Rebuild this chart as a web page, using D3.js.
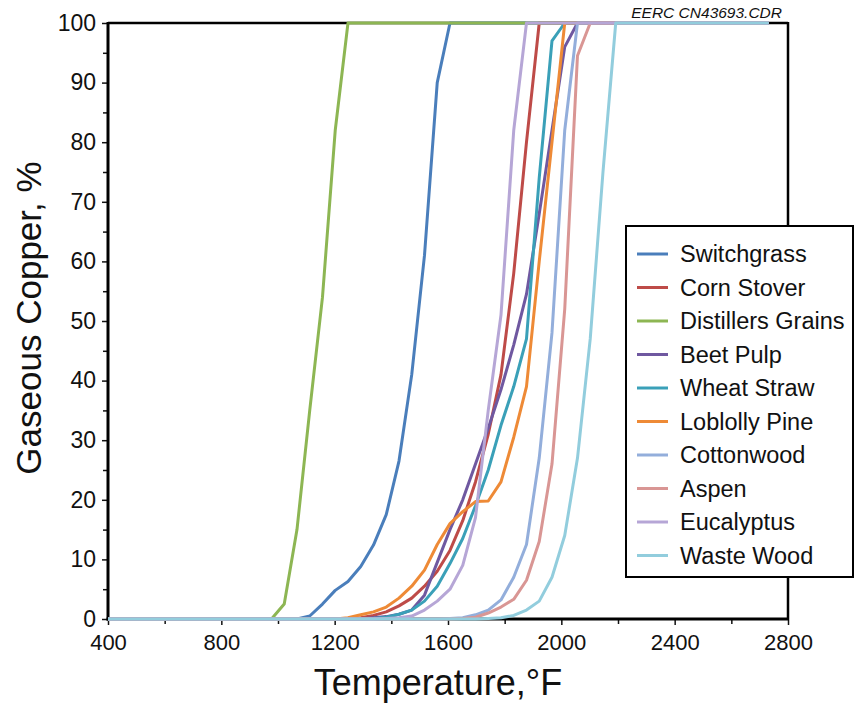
<!DOCTYPE html>
<html>
<head>
<meta charset="utf-8">
<script src="https://cdn.jsdelivr.net/npm/d3@7"></script>
<style>
  html, body { margin: 0; padding: 0; background: #fff; }
  svg { display: block; }
  text { font-family: "Liberation Sans", Arial, Helvetica, sans-serif; fill: #111; }
</style>
</head>
<body>
<svg id="chart" width="856" height="705"></svg>
<script>
// Temperature grid (°F), one reading every 25 °C
const temperature = [400, 437, 482, 527, 572, 617, 662, 707, 752, 797, 842, 887, 932,
  977, 1022, 1067, 1112, 1157, 1202, 1247, 1292, 1337, 1382, 1427, 1472, 1517, 1562,
  1607, 1652, 1697, 1742, 1787, 1832, 1877, 1922, 1967, 2012, 2057, 2102, 2147, 2192,
  2237, 2282, 2327, 2372, 2417, 2462, 2507, 2552, 2597, 2642, 2687, 2732];

// Gaseous copper (%) for each fuel along the temperature grid
const switchgrass = [0,0,0,0,0,0,0,0,0,0,0,0,0,0,0,0,
  0.5,2.5,4.8,6.3,8.8,12.4,17.5,26.5,41,61,90,
  100,100,100,100,100,100,100,100,100,100,100,100,100,100,100,100,100,100,100,100,100,100,100,100,100,100];
const cornStover = [0,0,0,0,0,0,0,0,0,0,0,0,0,0,0,0,0,0,0,0,
  0.2,0.6,1.2,2.2,3.5,5.5,8,11.5,16.5,23,31,41,58,80,
  100,100,100,100,100,100,100,100,100,100,100,100,100,100,100,100,100,100,100];
const distillersGrains = [0,0,0,0,0,0,0,0,0,0,0,0,0,0,
  2.5,15,35,54,82,
  100,100,100,100,100,100,100,100,100,100,100,100,100,100,100,100,100,100,100,100,100,100,100,100,100,100,100,100,100,100,100,100,100,100];
const beetPulp = [0,0,0,0,0,0,0,0,0,0,0,0,0,0,0,0,0,0,0,0,0,
  0.2,0.4,0.8,1.5,4,9.5,15,20,26,32,38.5,46,54.5,68,82,96,
  100,100,100,100,100,100,100,100,100,100,100,100,100,100,100,100];
const wheatStraw = [0,0,0,0,0,0,0,0,0,0,0,0,0,0,0,0,0,0,0,0,0,
  0.1,0.3,0.8,1.5,3,5.5,9.3,13.5,19,25,32.5,39,47,74,97,
  100,100,100,100,100,100,100,100,100,100,100,100,100,100,100,100,100];
const loblollyPine = [0,0,0,0,0,0,0,0,0,0,0,0,0,0,0,0,0,0,0,
  0.2,0.7,1.2,2,3.5,5.5,8.2,12.5,16,18,19.7,19.8,23,30.5,39,60,80,
  100,100,100,100,100,100,100,100,100,100,100,100,100,100,100,100,100];
const cottonwood = [0,0,0,0,0,0,0,0,0,0,0,0,0,0,0,0,0,0,0,0,0,0,0,0,0,0,0,
  0.1,0.2,0.7,1.5,3.2,7,12.5,27,48,82,
  100,100,100,100,100,100,100,100,100,100,100,100,100,100,100,100];
const aspen = [0,0,0,0,0,0,0,0,0,0,0,0,0,0,0,0,0,0,0,0,0,0,0,0,0,0,0,0,
  0.1,0.3,1,2,3.3,6.5,13,26,52,94.5,
  100,100,100,100,100,100,100,100,100,100,100,100,100,100,100];
const eucalyptus = [0,0,0,0,0,0,0,0,0,0,0,0,0,0,0,0,0,0,0,0,0,0,
  0.1,0.2,0.5,1.5,3,5,9,17,35,51,82,
  100,100,100,100,100,100,100,100,100,100,100,100,100,100,100,100,100,100,100,100];
const wasteWood = [0,0,0,0,0,0,0,0,0,0,0,0,0,0,0,0,0,0,0,0,0,0,0,0,0,0,0,0,0,0,
  0.1,0.2,0.6,1.5,3,7,14,27,47,75,
  100,100,100,100,100,100,100,100,100,100,100,100,100];

const seriesNames = ["Switchgrass", "Corn Stover", "Distillers Grains", "Beet Pulp", "Wheat Straw",
  "Loblolly Pine", "Cottonwood", "Aspen", "Eucalyptus", "Waste Wood"];
const seriesValues = [switchgrass, cornStover, distillersGrains, beetPulp, wheatStraw,
  loblollyPine, cottonwood, aspen, eucalyptus, wasteWood];
const seriesColors = ["#4a7ebb", "#be4b48", "#8db653", "#6f58a0", "#3aa0b8",
  "#ee8a36", "#93aedb", "#d99694", "#b6a6d6", "#92cddd"];

const xTicks = [400, 800, 1200, 1600, 2000, 2400, 2800];
const yTicks = [0, 10, 20, 30, 40, 50, 60, 70, 80, 90, 100];

const svg = d3.select("#chart");
const plotLeft = 108, plotRight = 788, plotTop = 23, plotBottom = 619;

const x = d3.scaleLinear().domain([400, 2800]).range([plotLeft, plotRight]);
const y = d3.scaleLinear().domain([0, 100]).range([plotBottom, plotTop]);

// Minor ticks
svg.append("g")
  .attr("transform", `translate(0,${plotBottom})`)
  .call(d3.axisBottom(x).tickValues(d3.range(600, 2800, 400)).tickSize(5).tickFormat(""))
  .call(g => g.select(".domain").remove())
  .call(g => g.selectAll("line").attr("stroke", "#111").attr("stroke-width", 1.5));
svg.append("g")
  .attr("transform", `translate(${plotLeft},0)`)
  .call(d3.axisLeft(y).tickValues(d3.range(5, 100, 10)).tickSize(5).tickFormat(""))
  .call(g => g.select(".domain").remove())
  .call(g => g.selectAll("line").attr("stroke", "#111").attr("stroke-width", 1.5));

// Major ticks and labels
const xAxis = svg.append("g")
  .attr("transform", `translate(0,${plotBottom})`)
  .call(d3.axisBottom(x).tickValues(xTicks).tickSize(6).tickPadding(9).tickFormat(d3.format("d")));
xAxis.select(".domain").remove();
xAxis.selectAll("line").attr("stroke", "#111").attr("stroke-width", 1.5);
xAxis.selectAll("text").attr("font-size", 22).attr("fill", "#111")
  .style("font-family", "'Liberation Sans', Arial, sans-serif");

const yAxis = svg.append("g")
  .attr("transform", `translate(${plotLeft},0)`)
  .call(d3.axisLeft(y).tickValues(yTicks).tickSize(6).tickPadding(6).tickFormat(d3.format("d")));
yAxis.select(".domain").remove();
yAxis.selectAll("line").attr("stroke", "#111").attr("stroke-width", 1.5);
yAxis.selectAll("text").attr("font-size", 23).attr("fill", "#111")
  .style("font-family", "'Liberation Sans', Arial, sans-serif");

// Plot frame
const frame = svg.append("g").attr("stroke", "#000").attr("fill", "none");
frame.append("line").attr("x1", plotLeft).attr("x2", plotRight).attr("y1", plotTop).attr("y2", plotTop).attr("stroke-width", 2.5);
frame.append("line").attr("x1", plotRight).attr("x2", plotRight).attr("y1", plotTop - 1).attr("y2", plotBottom).attr("stroke-width", 2.5);
frame.append("line").attr("x1", plotLeft).attr("x2", plotLeft).attr("y1", plotTop - 1).attr("y2", plotBottom + 1.5).attr("stroke-width", 3);
frame.append("line").attr("x1", plotLeft - 1.5).attr("x2", plotRight + 1).attr("y1", plotBottom).attr("y2", plotBottom).attr("stroke-width", 3);

// Curves
const line = d3.line()
  .x((d, i) => x(temperature[i]))
  .y(d => y(d));

svg.append("g").selectAll("path")
  .data(seriesValues)
  .join("path")
  .attr("d", line)
  .attr("fill", "none")
  .attr("stroke", (d, i) => seriesColors[i])
  .attr("stroke-width", 3)
  .attr("stroke-linejoin", "round");

// Axis titles
svg.append("text")
  .attr("x", 438).attr("y", 695)
  .attr("text-anchor", "middle")
  .attr("font-size", 36)
  .text("Temperature,°F");

svg.append("text")
  .attr("transform", "translate(41,318) rotate(-90)")
  .attr("text-anchor", "middle")
  .attr("font-size", 35)
  .text("Gaseous Copper, %");

// Drawing reference tag
svg.append("text")
  .attr("x", 782).attr("y", 18)
  .attr("text-anchor", "end")
  .attr("font-size", 15.5)
  .attr("font-style", "italic")
  .attr("fill", "#333")
  .text("EERC CN43693.CDR");

// Legend
const legend = svg.append("g");
legend.append("rect")
  .attr("x", 626).attr("y", 226).attr("width", 227).attr("height", 351)
  .attr("fill", "#fff").attr("stroke", "#000").attr("stroke-width", 2);
const item = legend.selectAll("g.item")
  .data(seriesNames)
  .join("g")
  .attr("class", "item")
  .attr("transform", (d, i) => `translate(0,${254 + i * 33.5})`);
item.append("line")
  .attr("x1", 637).attr("x2", 668)
  .attr("stroke", (d, i) => seriesColors[i])
  .attr("stroke-width", 3);
item.append("text")
  .attr("x", 680).attr("dy", "0.36em")
  .attr("font-size", 23.5)
  .text(d => d);
</script>
</body>
</html>
